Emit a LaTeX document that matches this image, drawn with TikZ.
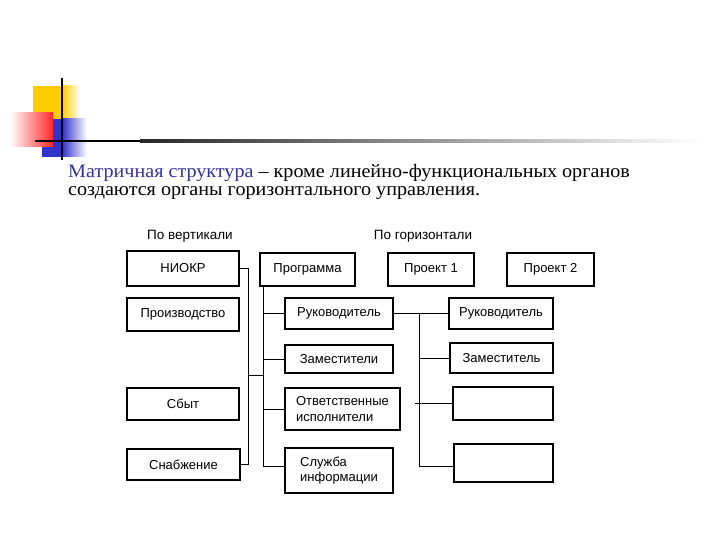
\documentclass[tikz,border=0pt]{standalone}
\usepackage{fontspec}
\setmainfont{Liberation Serif}
\newfontfamily\diagfont{Liberation Sans}
\usepackage{tikz}
\usetikzlibrary{positioning, calc}
\definecolor{deco-yellow}{RGB}{255, 204, 0}
\definecolor{deco-blue}{RGB}{51, 51, 204}
\definecolor{deco-red}{RGB}{255, 40, 40}
\definecolor{titleblue}{RGB}{51, 51, 153}
\tikzstyle{unit} = [rectangle, draw=black, line width=1.8pt, fill=white, align=left, inner sep=2pt, font=\diagfont\fontsize{13}{15.5}\selectfont]
\tikzstyle{unitthin} = [unit, line width=1.1pt]
\tikzstyle{heading} = [font=\diagfont\fontsize{13.5}{16}\selectfont]
\tikzstyle{link} = [line width=1pt]

\begin{document}
\begin{tikzpicture}[x=1pt, y=-1pt]
    \useasboundingbox (0,0) rectangle (720,540);

    % Slide decoration
    \fill[deco-yellow] (33,86) rectangle (62,119);
    \shade[left color=deco-yellow, right color=white] (62,86) rectangle (80,119);
    \fill[deco-blue] (42,119) rectangle (62,157);
    \shade[left color=deco-blue, right color=white] (62,119) rectangle (87,157);
    \shade[left color=white, right color=deco-red] (10,113) rectangle (53,147);
    \fill[black] (35,140) rectangle (140,142.5);
    \shade[left color=black!85, right color=white] (140,140) rectangle (700,142.5);
    \draw[line width=2pt] (62,78) -- (62,160);

    % Title
    \node[anchor=base west, inner sep=0pt, font=\fontsize{19}{22}\selectfont] (title1) at (68,178)
        {\scalebox{1.06}[1]{\textcolor{titleblue}{Матричная структура} – кроме линейно-функциональных органов}};
    \node[anchor=base west, inner sep=0pt, font=\fontsize{19}{22}\selectfont] (title2) at (68,196)
        {\scalebox{1.06}[1]{создаются органы горизонтального управления.}};

    % Headings
    \node[heading] (hvert) at (190,236) {По вертикали};
    \node[heading] (hhor) at (423,236) {По горизонтали};

    % Vertical units
    \node[unit, minimum width=112pt, minimum height=35pt] (niokr) at (183,268.5) {НИОКР};
    \node[unitthin, minimum width=112pt, minimum height=33pt] (proizv) at (183,314.5) {Производство};
    \node[unitthin, minimum width=112pt, minimum height=32pt] (sbyt) at (183,404) {Сбыт};
    \node[unit, minimum width=113pt, minimum height=31pt] (snab) at (183.5,464.5) {Снабжение};

    % Horizontal units
    \node[unit, minimum width=95pt, minimum height=33pt] (prog) at (307.5,269.5) {Программа};
    \node[unit, minimum width=86pt, minimum height=33pt] (proj1) at (431,269.5) {Проект 1};
    \node[unit, minimum width=87pt, minimum height=33pt] (proj2) at (550.5,269.5) {Проект 2};

    % Programme staff
    \node[unitthin, minimum width=108pt, minimum height=31pt] (ruk1) at (339,313.5) {Руководитель};
    \node[unit, minimum width=108pt, minimum height=28pt] (zam1) at (339,359) {Заместители};
    \node[unit, minimum width=115pt, minimum height=42pt] (otv) at (342.5,409) {Ответственные\\исполнители};
    \node[unit, minimum width=108pt, minimum height=45pt] (sluzh) at (339,470.5) {Служба\\информации};

    % Project staff
    \node[unitthin, minimum width=104pt, minimum height=31pt] (ruk2) at (501,313.5) {Руководитель};
    \node[unit, minimum width=103pt, minimum height=30pt] (zam2) at (501.5,358) {Заместитель};
    \node[unit, minimum width=100pt, minimum height=33pt] (blank1) at (503,403.5) {};
    \node[unit, minimum width=99pt, minimum height=38pt] (blank2) at (503.5,463) {};

    % Buses
    \coordinate (busL) at (248,464.5);
    \coordinate (linkL) at (248,375);
    \coordinate (busP) at (263,466);
    \coordinate (linkP) at (263,375);
    \coordinate (busR) at (419,466);
    \coordinate (stubR) at (415,403.5);

    % Connectors
    \draw[link] (niokr.east) -| (busL) -- (snab.east);
    \draw[link] (linkL) -- (linkP);
    \draw[link] (prog.south -| busP) -- (busP) -- (sluzh.west |- busP);
    \foreach \n in {ruk1, zam1, otv}
        \draw[link] (\n.west) -- (\n.west -| busP);
    \draw[link] (ruk1.east) -- (ruk2.west);
    \draw[link] (ruk1.east -| busR) -- (busR) -- (blank2.west |- busR);
    \draw[link] (zam2.west) -- (zam2.west -| busR);
    \draw[link] (blank1.west) -- (stubR);
\end{tikzpicture}
\end{document}
